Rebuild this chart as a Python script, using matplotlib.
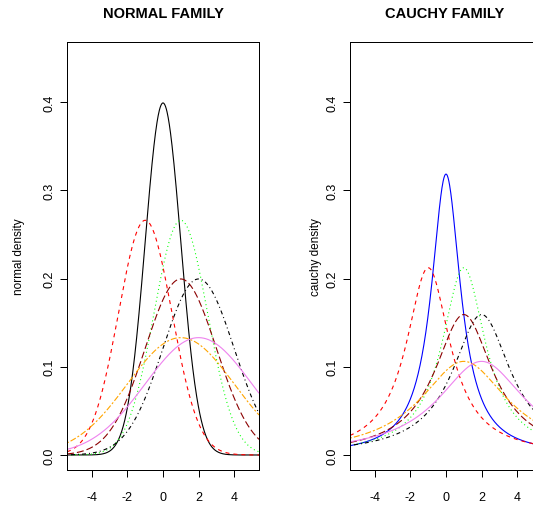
import numpy as np
import matplotlib
matplotlib.use("Agg")
import matplotlib.pyplot as plt

plt.rcParams['font.family'] = ['Liberation Sans', 'DejaVu Sans']
plt.rcParams['lines.scale_dashes'] = False

# curve parameters (location, scale) for both families
locs = [0, -1, 1, 1, 2, 1, 2]
scales = [1, 1.5, 1.5, 2, 2, 3, 3]
normal_colors = ['black', '#FF0000', '#00FF00', '#8B0000', 'black', '#FFA500', '#EE82EE']
cauchy_colors = ['#0000FF', '#FF0000', '#00FF00', '#8B0000', 'black', '#FFA500', '#EE82EE']
x_range = (-5.4, 5.4)
y_range = (-0.017, 0.468)
x_ticks = [-4, -2, 0, 2, 4]
y_ticks = [0.0, 0.1, 0.2, 0.3, 0.4]

# R line types in points (1px ~ 0.72pt)
p = 0.72
styles = [
    (0, ()),
    (0, (4 * p, 4 * p)),
    (0, (1 * p, 3 * p)),
    (0, (7 * p, 3 * p)),
    (0, (1 * p, 3 * p, 4 * p, 3 * p)),
    (0, (2 * p, 2 * p, 6 * p, 2 * p)),
    (0, ()),
]


def normal_pdf(x, m, s):
    return np.exp(-0.5 * ((x - m) / s) ** 2) / (s * np.sqrt(2 * np.pi))


def cauchy_pdf(x, m, s):
    return 1.0 / (np.pi * s * (1 + ((x - m) / s) ** 2))


fig = plt.figure(figsize=(5.33, 5.06), dpi=100)
W, H = 533, 506
ax1 = fig.add_axes([67 / W, (H - 471) / H, 192 / W, 428 / H])
ax2 = fig.add_axes([350 / W, (H - 471) / H, 192 / W, 428 / H])

xs = np.linspace(x_range[0], x_range[1], 500)

for ax, pdf, cols in [(ax1, normal_pdf, normal_colors), (ax2, cauchy_pdf, cauchy_colors)]:
    for m, s, c, ls in zip(locs, scales, cols, styles):
        ax.plot(xs, pdf(xs, m, s), color=c, linestyle=ls, linewidth=0.8)
    ax.set_xlim(*x_range)
    ax.set_ylim(*y_range)
    ax.set_xticks(x_ticks)
    ax.set_xticklabels([str(t) for t in x_ticks])
    ax.set_yticks(y_ticks)
    ax.set_yticklabels(['%.1f' % t for t in y_ticks], rotation=90, va='center')
    ax.tick_params(axis='both', direction='out', length=5, width=0.72, labelsize=9)
    ax.tick_params(axis='x', pad=10)
    ax.tick_params(axis='y', pad=3.5)
    for sp in ax.spines.values():
        sp.set_linewidth(0.72)

fig.text(163 / W, 1 - 14 / H, 'NORMAL FAMILY', ha='center', va='center',
         fontsize=10.5, fontweight='bold')
fig.text(445 / W, 1 - 14 / H, 'CAUCHY FAMILY', ha='center', va='center',
         fontsize=10.5, fontweight='bold')
fig.text(19 / W, 1 - 257 / H, 'normal density', rotation=90, ha='center',
         va='center', fontsize=8.5)
fig.text(316 / W, 1 - 257 / H, 'cauchy density', rotation=90, ha='center',
         va='center', fontsize=8.5)

fig.savefig('out.png', dpi=100)
